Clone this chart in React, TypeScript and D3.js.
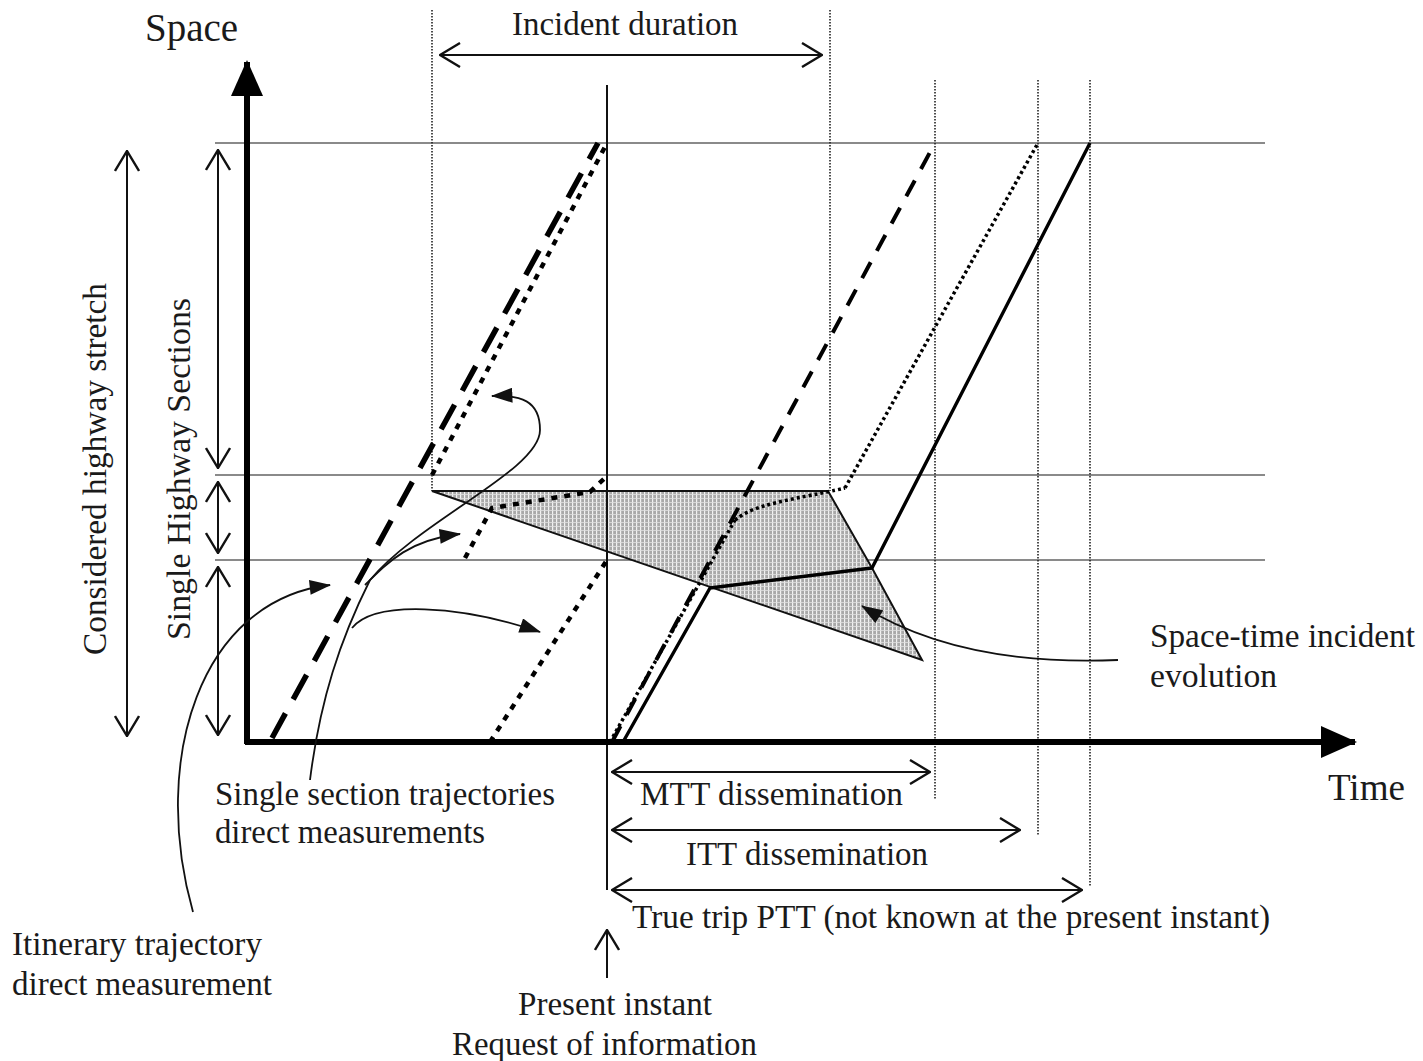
import * as d3 from "d3";
import React from "react";

// space boundaries of the highway sections (0 = origin, last = end of stretch)
const sectionBounds = [0, 182, 267, 599];
// time instants
const incidentStart = 185;
const presentInstant = 360;
const incidentEnd = 583;
const mttEnd = 688;
const ittEnd = 791;
const pttEnd = 843;

// trajectories as [time, space]
const itineraryMeasured: [number, number][] = [[25, 4], [351, 599]];
const section1Measured: [number, number][] = [[243, 0], [360, 182]];
const section2Measured: [number, number][] = [[218, 184], [245, 234], [343, 250], [360, 266]];
const section3Measured: [number, number][] = [[185, 267], [360, 599]];
const mttForecast: [number, number][] = [[365, 0], [688, 599]];
const ittForecast: [number, number][] = [[363, 0], [488, 222], [508, 236], [581, 250], [598, 254], [791, 599]];
const pttTrue: [number, number][] = [[376, 0], [463, 154], [625, 174], [843, 599]];
const incidentArea: [number, number][] = [[185, 251], [581, 251], [625, 174], [675, 82]];

// annotation curves (cubic bezier control points, [time, space])
const itineraryPointer: [number, number][] = [[-54, -170], [-97, -18], [-47, 142], [83, 157]];
const sectionStem: [number, number][] = [
  [63, -38], [73, 42], [93, 102], [123, 162],
  [173, 222], [293, 272], [293, 312],
  [293, 342], [273, 347], [245, 346],
];
const sectionBranch1: [number, number][] = [[105, 114], [128, 142], [213, 137], [293, 110]];
const sectionBranch2: [number, number][] = [[118, 157], [143, 182], [163, 202], [213, 208]];
const incidentPointer: [number, number][] = [[871, 82], [753, 77], [673, 100], [615, 136]];

// labels: text, x, y, width
const labels: [string, number, number, number][] = [
  ["Incident duration", 512, 35, 226],
  ["Single section trajectories", 215, 805, 340],
  ["direct measurements", 215, 843, 270],
  ["Itinerary trajectory", 12, 955, 250],
  ["direct measurement", 12, 995, 260],
  ["MTT dissemination", 640, 805, 263],
  ["ITT dissemination", 686, 865, 242],
  ["True trip PTT (not known at the present instant)", 632, 928, 638],
  ["Space-time incident", 1150, 647, 265],
  ["evolution", 1150, 687, 127],
  ["Present instant", 518, 1015, 194],
  ["Request of information", 452, 1055, 305],
];

const FONT = "'Liberation Serif', 'Times New Roman', serif";

export default function App() {
  const W = 1423;
  const H = 1061;
  const x = d3.scaleLinear().domain([0, 1108]).range([247, 1355]);
  const y = d3.scaleLinear().domain([0, 680]).range([742, 62]);

  const line = d3
    .line<[number, number]>()
    .x((d) => x(d[0]))
    .y((d) => y(d[1]));

  const bez = (pts: [number, number][]) => {
    const p = d3.path();
    p.moveTo(x(pts[0][0]), y(pts[0][1]));
    for (let i = 1; i + 2 < pts.length; i += 3) {
      p.bezierCurveTo(
        x(pts[i][0]), y(pts[i][1]),
        x(pts[i + 1][0]), y(pts[i + 1][1]),
        x(pts[i + 2][0]), y(pts[i + 2][1])
      );
    }
    return p.toString();
  };

  const top = sectionBounds[sectionBounds.length - 1];
  const txt = { fontFamily: FONT, fontSize: 33, fill: "#1a1a1a", lengthAdjust: "spacingAndGlyphs" } as const;
  const dotted = { stroke: "#222", strokeWidth: 1.6, strokeDasharray: "1.5,1.5" };

  return (
    <svg
      width={W}
      height={H}
      style={{ position: "absolute", left: 0, top: 0, background: "#fff" }}
    >
      <defs>
        <pattern id="hatch" width="4" height="4" patternUnits="userSpaceOnUse">
          <rect width="4" height="4" fill="#a9a9a9" />
          <rect x="0" y="0" width="1.2" height="4" fill="#f2f2f2" />
          <rect x="0" y="2" width="4" height="0.8" fill="#e0e0e0" />
        </pattern>
        <marker id="chev" viewBox="0 0 22 26" refX="21" refY="13"
          markerWidth="22" markerHeight="26" markerUnits="userSpaceOnUse"
          orient="auto-start-reverse">
          <path d="M1,1 L21,13 L1,25" fill="none" stroke="#111" strokeWidth="2.4" />
        </marker>
        <marker id="tri" viewBox="0 0 20 14" refX="19" refY="7"
          markerWidth="22" markerHeight="15" markerUnits="userSpaceOnUse"
          orient="auto">
          <path d="M0,0 L20,7 L0,14 Z" fill="#111" />
        </marker>
        <marker id="axisHead" viewBox="0 0 36 32" refX="34" refY="16"
          markerWidth="36" markerHeight="32" markerUnits="userSpaceOnUse"
          orient="auto">
          <path d="M0,0 L36,16 L0,32 Z" fill="#000" />
        </marker>
      </defs>

      {/* section boundaries */}
      {sectionBounds.slice(1).map((s) => (
        <line key={s} x1={215} x2={1265} y1={y(s)} y2={y(s)} stroke="#8a8a8a" strokeWidth={2} />
      ))}

      {/* dotted time markers */}
      {[incidentStart, incidentEnd].map((t) => (
        <line key={t} x1={x(t)} x2={x(t)} y1={10} y2={y(251)} {...dotted} />
      ))}
      {[
        [mttEnd, 800],
        [ittEnd, 836],
        [pttEnd, 886],
      ].map(([t, yb]) => (
        <line key={t} x1={x(t)} x2={x(t)} y1={80} y2={yb} {...dotted} />
      ))}

      {/* incident area */}
      <path d={line(incidentArea) + "Z"} fill="url(#hatch)" stroke="#111" strokeWidth={2} />

      {/* present instant */}
      <line x1={x(presentInstant)} x2={x(presentInstant)} y1={85} y2={890} stroke="#111" strokeWidth={2} />

      {/* trajectories */}
      <path d={line(itineraryMeasured)!} fill="none" stroke="#000" strokeWidth={5.5} strokeDasharray="28,16" />
      <path d={line(section3Measured)!} fill="none" stroke="#000" strokeWidth={4.5} strokeDasharray="6,7" />
      <path d={line(section2Measured)!} fill="none" stroke="#000" strokeWidth={4.5} strokeDasharray="6,7" />
      <path d={line(section1Measured)!} fill="none" stroke="#000" strokeWidth={4.5} strokeDasharray="6,7" />
      <path d={line(mttForecast)!} fill="none" stroke="#000" strokeWidth={4} strokeDasharray="18,13" />
      <path d={line(ittForecast.slice(0, 2))!} fill="none" stroke="#000" strokeWidth={3.5} strokeDasharray="3,3" />
      <path d={d3.line<[number, number]>().x((d) => x(d[0])).y((d) => y(d[1])).curve(d3.curveBasis)(ittForecast.slice(1, 5))!}
        fill="none" stroke="#000" strokeWidth={3.5} strokeDasharray="3,3" />
      <path d={line(ittForecast.slice(4))!} fill="none" stroke="#000" strokeWidth={3.5} strokeDasharray="3,3" />
      <path d={line(pttTrue)!} fill="none" stroke="#000" strokeWidth={3.4} strokeLinejoin="round" />

      {/* axes */}
      <line x1={x(0)} x2={x(0)} y1={y(0) + 2} y2={y(680)} stroke="#000" strokeWidth={6} markerEnd="url(#axisHead)" />
      <line x1={x(0) - 2} x2={x(1108)} y1={y(0)} y2={y(0)} stroke="#000" strokeWidth={6} markerEnd="url(#axisHead)" />

      {/* annotation curves */}
      <path d={bez(itineraryPointer)} fill="none" stroke="#111" strokeWidth={1.8} markerEnd="url(#tri)" />
      <path d={bez(sectionStem)} fill="none" stroke="#111" strokeWidth={1.8} markerEnd="url(#tri)" />
      <path d={bez(sectionBranch1)} fill="none" stroke="#111" strokeWidth={1.8} markerEnd="url(#tri)" />
      <path d={bez(sectionBranch2)} fill="none" stroke="#111" strokeWidth={1.8} markerEnd="url(#tri)" />
      <path d={bez(incidentPointer)} fill="none" stroke="#111" strokeWidth={1.8} markerEnd="url(#tri)" />

      {/* dimension arrows: left */}
      <line x1={127} x2={127} y1={y(top) + 8} y2={y(0) - 6} stroke="#111" strokeWidth={2}
        markerStart="url(#chev)" markerEnd="url(#chev)" />
      {sectionBounds.slice(1).map((s, i) => (
        <line key={s} x1={218} x2={218} y1={y(s) + 7} y2={y(sectionBounds[i]) - 7}
          stroke="#111" strokeWidth={2} markerStart="url(#chev)" markerEnd="url(#chev)" />
      ))}

      {/* dimension arrows: incident duration and dissemination */}
      <line x1={x(incidentStart) + 8} x2={x(incidentEnd) - 8} y1={55} y2={55} stroke="#111" strokeWidth={2}
        markerStart="url(#chev)" markerEnd="url(#chev)" />
      {[
        [mttEnd, 772, 5],
        [ittEnd, 830, 18],
        [pttEnd, 890, 8],
      ].map(([t, yy, gap]) => (
        <line key={t} x1={x(presentInstant) + 5} x2={x(t) - gap} y1={yy} y2={yy} stroke="#111" strokeWidth={2.2}
          markerStart="url(#chev)" markerEnd="url(#chev)" />
      ))}
      <line x1={x(presentInstant)} x2={x(presentInstant)} y1={978} y2={930} stroke="#111" strokeWidth={2}
        markerEnd="url(#chev)" />

      {/* texts */}
      <text {...txt} x={145} y={41} fontSize={39} textLength={93}>Space</text>
      <text {...txt} x={1328} y={800} fontSize={38} textLength={77}>Time</text>
      <text {...txt} transform="translate(106,655) rotate(-90)" textLength={372}>Considered highway stretch</text>
      <text {...txt} transform="translate(190,640) rotate(-90)" textLength={342}>Single Highway Sections</text>
      {labels.map(([s, lx, ly, w]) => (
        <text key={s} {...txt} x={lx} y={ly} textLength={w}>{s}</text>
      ))}
    </svg>
  );
}
